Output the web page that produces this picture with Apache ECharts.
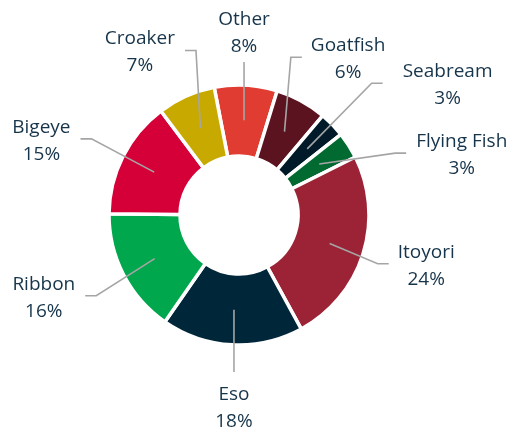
<!DOCTYPE html>
<html>
<head>
<meta charset="utf-8">
<script src="https://cdn.jsdelivr.net/npm/echarts@6/dist/echarts.min.js"></script>
<style>
  html, body { margin: 0; padding: 0; background: #fff; }
  #chart { width: 513px; height: 432px; }
</style>
</head>
<body>
<div id="chart"></div>
<script>
// 어종별 비중 도넛 차트

const categories = ['Other', 'Goatfish', 'Seabream', 'Flying Fish', 'Itoyori', 'Eso', 'Ribbon', 'Bigeye', 'Croaker'];
const shares = [7.8, 6.4, 3.2, 3.3, 24.4, 17.6, 15.5, 14.6, 7.2];
const sliceColors = ['#E03C31', '#5C1320', '#011A2A', '#006A30', '#9B2335', '#00263A', '#00A74D', '#D50037', '#C8A900'];

// 라벨 꺾이는 지점: [조각 중간각에서 더할 각도(deg), 반지름(px), 선 끝~글자 간격(px)]
const leaderBend = [[0, 153, 2], [10.4, 166, 9], [0.7, 187, 20], [-10.8, 168, 10], [-1.9, 147, 9], [0, 157, 9], [2.1, 164, 10], [-0.5, 166, 10], [-9.3, 170, 10]];

const cx = 239, cy = 215;
const startAngle = 101;
const lineStartR = 95;
const textColor = '#16344A';

let total = shares.reduce(function (a, b) { return a + b; }, 0);
let acc = 0;
let midAngles = shares.map(function (v) {
  let m = startAngle - (acc + v / 2) / total * 360;
  acc += v;
  return m;
});

let ringData = categories.map(function (name, i) {
  return { name: name, value: shares[i], itemStyle: { color: sliceColors[i] } };
});
let labelData = categories.map(function (name, i) {
  return { name: name, value: shares[i] };
});

let chart = echarts.init(document.getElementById('chart'));

let option = {
  animation: false,
  series: [
    {
      type: 'pie',
      center: [cx, cy],
      radius: [59, 130],
      startAngle: startAngle,
      silent: true,
      label: { show: false },
      labelLine: { show: false },
      itemStyle: { borderColor: '#fff', borderWidth: 3.5 },
      data: ringData
    },
    {
      // 라벨과 지시선만 그리는 투명 파이
      type: 'pie',
      z: 3,
      center: [cx, cy],
      radius: [0, lineStartR],
      startAngle: startAngle,
      silent: true,
      avoidLabelOverlap: false,
      itemStyle: { color: 'rgba(0,0,0,0)', borderWidth: 0 },
      label: {
        show: true,
        position: 'outside',
        formatter: function (p) {
          return '{t|' + p.name + '}\n{t|' + Math.round(p.percent) + '%}';
        },
        rich: {
          t: {
            align: 'center',
            fontFamily: 'Open Sans',
            fontSize: 19,
            lineHeight: 27,
            color: textColor
          }
        }
      },
      labelLine: {
        show: true,
        lineStyle: { color: '#A5A5A5', width: 1.6, opacity: 1 }
      },
      labelLayout: function (params) {
        let i = params.dataIndex;
        let mid = midAngles[i] * Math.PI / 180;
        let p0 = [cx + lineStartR * Math.cos(mid), cy - lineStartR * Math.sin(mid)];
        let a = (midAngles[i] + leaderBend[i][0]) * Math.PI / 180;
        let r = leaderBend[i][1];
        let gap = leaderBend[i][2];

        // 위/아래 라벨은 세로선 끝에 가운데 정렬
        if (Math.abs(Math.cos(a)) < 0.1) {
          let up = Math.sin(a) > 0;
          let p1 = [p0[0], up ? cy - r : cy + r];
          return {
            x: p1[0],
            y: up ? p1[1] - gap : p1[1] + gap,
            align: 'center',
            verticalAlign: up ? 'bottom' : 'top',
            labelLinePoints: [p0, p1, p1]
          };
        }

        let side = Math.cos(a) > 0 ? 1 : -1;
        let p1 = [cx + r * Math.cos(a), cy - r * Math.sin(a)];
        let p2 = [p1[0] + side * 11, p1[1]];
        return {
          x: p2[0] + side * gap,
          y: p2[1] + 2,
          align: side > 0 ? 'left' : 'right',
          verticalAlign: 'middle',
          labelLinePoints: [p0, p1, p2]
        };
      },
      data: labelData
    }
  ]
};
chart.setOption(option);
</script>
</body>
</html>
